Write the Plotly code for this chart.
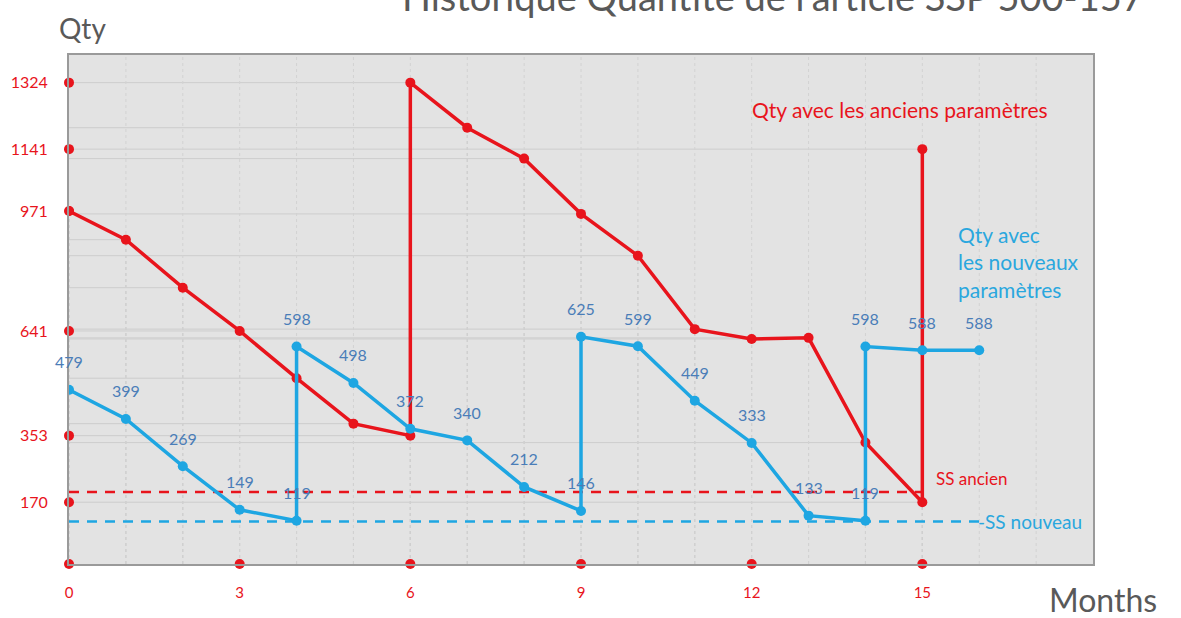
import plotly.graph_objects as go

# Stock quantity history, month by month
old_months = [0, 1, 2, 3, 4, 5, 6, 6, 7, 8, 9, 10, 11, 12, 13, 14, 15, 15]
old_qty = [971, 892, 760, 641, 511, 386, 353, 1324, 1200, 1115, 963, 848, 646, 619, 622, 334, 170, 1141]

new_months = [0, 1, 2, 3, 4, 4, 5, 6, 7, 8, 9, 9, 10, 11, 12, 13, 14, 14, 15, 16]
new_qty = [479, 399, 269, 149, 119, 598, 498, 372, 340, 212, 146, 625, 599, 449, 333, 133, 119, 598, 588, 588]

# Safety stock levels
ss_old = 198
ss_old_months = [0, 15]
ss_new = 117
ss_new_months = [0, 16]

y_ticks = [170, 353, 641, 971, 1141, 1324]
x_ticks = [0, 3, 6, 9, 12, 15]

RED = "#e8141c"
BLUE = "#1ea6e2"
LABEL_BLUE = "#4a7db8"
GREY_TXT = "#595959"
FONT = "Lato, Noto Sans, sans-serif"

fig = go.Figure()

# light drop lines from each point of the old series to both axes
shapes = []
for mx, q in zip(old_months, old_qty):
    shapes.append(dict(type="line", xref="x", yref="y", x0=mx, x1=mx, y0=0, y1=q,
                       line=dict(color="#c4c4c4", width=1, dash="dot"), layer="below"))
    shapes.append(dict(type="line", xref="x", yref="y", x0=0, x1=mx, y0=q, y1=q,
                       line=dict(color="#cdcdcd", width=1), layer="below"))
for mx in range(1, 18):
    shapes.append(dict(type="line", xref="x", yref="y", x0=mx, x1=mx, y0=0, y1=1400,
                       line=dict(color="#d2d2d2", width=1, dash="dot"), layer="below"))

# safety stock lines
fig.add_trace(go.Scatter(x=ss_old_months, y=[ss_old] * len(ss_old_months), mode="lines",
                         line=dict(color=RED, width=2.5, dash="10px,8px"), hoverinfo="skip"))
fig.add_trace(go.Scatter(x=ss_new_months, y=[ss_new] * len(ss_new_months), mode="lines",
                         line=dict(color=BLUE, width=2.5, dash="10px,8px"), hoverinfo="skip"))

# quantity with the old parameters
fig.add_trace(go.Scatter(x=old_months, y=old_qty, mode="lines+markers",
                         line=dict(color=RED, width=3.5), marker=dict(color=RED, size=10)))
# quantity with the new parameters
fig.add_trace(go.Scatter(x=new_months, y=new_qty, mode="lines+markers",
                         line=dict(color=BLUE, width=3.5), marker=dict(color=BLUE, size=10)))

# red dots on the axes at each tick
fig.add_trace(go.Scatter(x=[0] * len(y_ticks) + x_ticks, y=y_ticks + [0] * len(x_ticks),
                         mode="markers", marker=dict(color=RED, size=10), cliponaxis=False,
                         hoverinfo="skip"))

annotations = []
for mx, q in zip(new_months, new_qty):
    annotations.append(dict(x=mx, y=q, xref="x", yref="y", text=str(q), showarrow=False,
                            yshift=28, font=dict(family=FONT, size=16, color=LABEL_BLUE)))

annotations += [
    dict(x=14.6, y=1250, xref="x", yref="y", text="Qty avec les anciens paramètres", showarrow=False,
         font=dict(family=FONT, size=21, color=RED)),
    dict(x=15.6, y=945, xref="x", yref="y", xanchor="left", align="left", yanchor="top",
         text="Qty avec<br>les nouveaux<br>paramètres", showarrow=False,
         font=dict(family=FONT, size=21, color="#2aa7de")),
    dict(x=15.2, y=236, xref="x", yref="y", xanchor="left", text="SS ancien", showarrow=False,
         font=dict(family=FONT, size=17, color=RED)),
    dict(x=15.95, y=ss_new, xref="x", yref="y", xanchor="left", text="-SS nouveau", showarrow=False,
         font=dict(family=FONT, size=19, color="#2aa7de")),
    # axis titles
    dict(x=-0.012, xref="paper", y=1.053, yref="paper", xanchor="left", yanchor="middle",
         text="Qty", showarrow=False, font=dict(family=FONT, size=28, color=GREY_TXT)),
    dict(x=0.955, xref="paper", y=-0.07, yref="paper", xanchor="left", yanchor="middle",
         text="Months", showarrow=False, font=dict(family=FONT, size=32, color=GREY_TXT)),
    # chart title
    dict(x=0.323, xref="paper", y=1.066, yref="paper", xanchor="left", yanchor="bottom",
         text="Historique Quantité de l'article SSP 500-157", showarrow=False,
         font=dict(family=FONT, size=38, color=GREY_TXT)),
]

fig.update_layout(
    width=1181, height=618,
    margin=dict(l=69, r=88, t=55, b=54),
    paper_bgcolor="white",
    plot_bgcolor="#e3e3e3",
    showlegend=False,
    shapes=shapes,
    annotations=annotations,
    xaxis=dict(range=[0, 18], tickvals=x_ticks, ticktext=[str(v) for v in x_ticks],
               showgrid=False, zeroline=False, showline=True, linecolor="#9a9a9a", linewidth=2,
               mirror=True, ticks="", ticklabelstandoff=14,
               tickfont=dict(family=FONT, size=15, color=RED)),
    yaxis=dict(range=[0, 1400], tickvals=y_ticks, ticktext=[str(v) for v in y_ticks],
               showgrid=False, zeroline=False, showline=True, linecolor="#9a9a9a", linewidth=2,
               mirror=True, ticks="", ticklabelstandoff=16,
               tickfont=dict(family=FONT, size=16, color=RED)),
)

fig.write_html("out.html")
